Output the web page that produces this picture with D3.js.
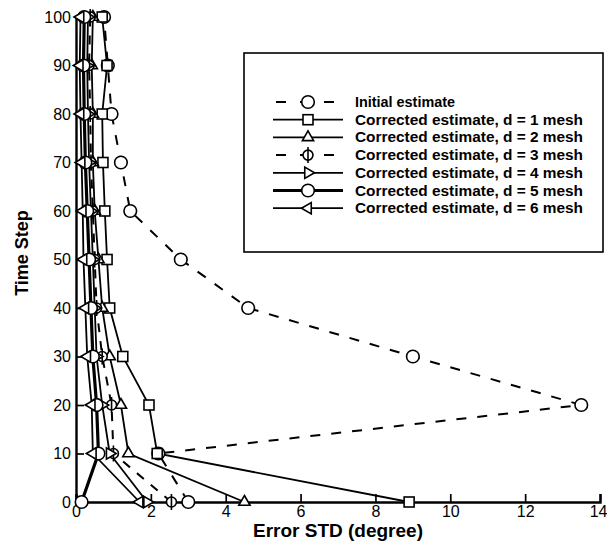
<!DOCTYPE html>
<html>
<head>
<meta charset="utf-8">
<script src="https://cdn.jsdelivr.net/npm/d3@7"></script>
<style>
  body { margin: 0; background: #fff; }
  text { font-family: "Liberation Sans", Arial, sans-serif; }
</style>
</head>
<body>
<div id="chart"></div>
<script>
// time steps (y)
const timeSteps = [0, 10, 20, 30, 40, 50, 60, 70, 80, 90, 100];
// error std per series, same order as timeSteps
const initialEst = [3.0, 2.2, 13.5, 9.0, 4.6, 2.8, 1.45, 1.2, 0.95, 0.85, 0.75];
const mesh1 = [8.9, 2.17, 1.95, 1.25, 0.9, 0.83, 0.77, 0.72, 0.7, 0.83, 0.7];
const mesh2 = [4.5, 1.4, 1.2, 0.9, 0.7, 0.6, 0.5, 0.45, 0.45, 0.42, 0.45];
const mesh3 = [2.55, 1.0, 0.95, 0.7, 0.55, 0.5, 0.45, 0.4, 0.38, 0.35, 0.38];
const mesh4 = [1.9, 0.9, 0.7, 0.55, 0.5, 0.45, 0.4, 0.35, 0.32, 0.3, 0.32];
const mesh5 = [0.15, 0.6, 0.55, 0.45, 0.4, 0.35, 0.3, 0.25, 0.22, 0.2, 0.22];
const mesh6 = [1.7, 0.45, 0.42, 0.3, 0.25, 0.2, 0.18, 0.15, 0.12, 0.1, 0.12];

const seriesNames = [
  "Initial estimate",
  "Corrected estimate, d = 1 mesh",
  "Corrected estimate, d = 2 mesh",
  "Corrected estimate, d = 3 mesh",
  "Corrected estimate, d = 4 mesh",
  "Corrected estimate, d = 5 mesh",
  "Corrected estimate, d = 6 mesh"
];
const xTicks = [0, 2, 4, 6, 8, 10, 12, 14];
const yTicks = [0, 10, 20, 30, 40, 50, 60, 70, 80, 90, 100];

const width = 607, height = 548;
const svg = d3.select("#chart").append("svg")
  .attr("width", width).attr("height", height);

const x = d3.scaleLinear().domain([0, 14]).range([76, 600]);
const y = d3.scaleLinear().domain([0, 100]).range([502, 17]);

// 线型和标记
const series = [
  { vals: initialEst, dash: "10,11", w: 2, mark: "circle" },
  { vals: mesh1, dash: null, w: 1.8, mark: "square" },
  { vals: mesh2, dash: null, w: 1.8, mark: "triUp" },
  { vals: mesh3, dash: "9,9", w: 2, mark: "phi" },
  { vals: mesh4, dash: null, w: 1.8, mark: "triRight" },
  { vals: mesh5, dash: null, w: 3.2, mark: "circle" },
  { vals: mesh6, dash: null, w: 1.8, mark: "triLeft" }
].map((s, i) => ({ ...s, name: seriesNames[i] }));

function drawMarker(g, type, cx, cy) {
  const m = g.append("g").attr("transform", `translate(${cx},${cy})`)
    .attr("fill", "#fff").attr("stroke", "#000").attr("stroke-width", 1.6);
  if (type === "circle") {
    m.append("circle").attr("r", 6.3);
  } else if (type === "square") {
    m.append("rect").attr("x", -5).attr("y", -5).attr("width", 10).attr("height", 10);
  } else if (type === "phi") {
    m.append("circle").attr("r", 5);
    m.append("line").attr("y1", -8).attr("y2", 8);
  } else {
    const rot = { triUp: 0, triRight: 90, triLeft: -90 }[type];
    m.append("path").attr("d", d3.symbol(d3.symbolTriangle, 55)()).attr("transform", `rotate(${rot})`);
  }
}

// axes
const gx = svg.append("g").attr("transform", `translate(0,${y(0)})`);
gx.call(d3.axisBottom(x).tickValues(d3.range(0, 14.01, 0.4)).tickSize(-4).tickFormat(""));
gx.call(d3.axisBottom(x).tickValues(xTicks).tickSize(-8).tickPadding(4).tickFormat(d3.format("d")));
const gy = svg.append("g").attr("transform", `translate(${x(0)},0)`);
gy.call(d3.axisLeft(y).tickValues(d3.range(0, 100.1, 2)).tickSize(-4).tickFormat(""));
gy.call(d3.axisLeft(y).tickValues(yTicks).tickSize(-8).tickPadding(5).tickFormat(d3.format("d")));
svg.selectAll(".domain").attr("stroke", "#000").attr("stroke-width", 2.4);
svg.selectAll(".tick line").attr("stroke", "#000").attr("stroke-width", 1.7);
svg.selectAll(".tick text").attr("font-size", 16).attr("fill", "#000");
// last x label sits at the right edge
gx.selectAll(".tick text").filter(d => d === 14).attr("text-anchor", "end").attr("dx", 7);

// lines
const line = d3.line().x(d => x(d[0])).y(d => y(d[1]));
const plot = svg.append("g");
series.forEach(s => {
  const pts = s.vals.map((v, i) => [v, timeSteps[i]]);
  plot.append("path").datum(pts).attr("d", line)
    .attr("fill", "none").attr("stroke", "#000")
    .attr("stroke-width", s.w)
    .attr("stroke-dasharray", s.dash);
});
series.forEach(s => {
  s.vals.forEach((v, i) => drawMarker(plot, s.mark, x(v), y(timeSteps[i])));
});

// legend
const lg = svg.append("g");
lg.append("rect").attr("x", 244).attr("y", 53).attr("width", 359).attr("height", 199)
  .attr("fill", "#fff").attr("stroke", "#000").attr("stroke-width", 1.6);
series.forEach((s, i) => {
  const ly = 102 + i * 17.7;
  lg.append("line").attr("x1", 273).attr("x2", 343).attr("y1", ly).attr("y2", ly)
    .attr("stroke", "#000").attr("stroke-width", s.w)
    .attr("stroke-dasharray", s.dash ? "10,14" : null)
    .attr("stroke-dashoffset", s.dash ? -3 : null);
  drawMarker(lg, s.mark, 308, ly);
  lg.append("text").attr("x", 355).attr("y", ly + 5)
    .attr("font-size", 14).attr("font-weight", "bold")
    .attr("textLength", i === 0 ? 100 : 228).attr("lengthAdjust", "spacingAndGlyphs")
    .text(s.name);
});

// axis titles
svg.append("text").attr("x", 338).attr("y", 537).attr("text-anchor", "middle")
  .attr("font-size", 19).attr("font-weight", "bold")
  .text("Error STD (degree)");
svg.append("text").attr("transform", "translate(28,253) rotate(-90)").attr("text-anchor", "middle")
  .attr("font-size", 18).attr("font-weight", "bold")
  .text("Time Step");
</script>
</body>
</html>
